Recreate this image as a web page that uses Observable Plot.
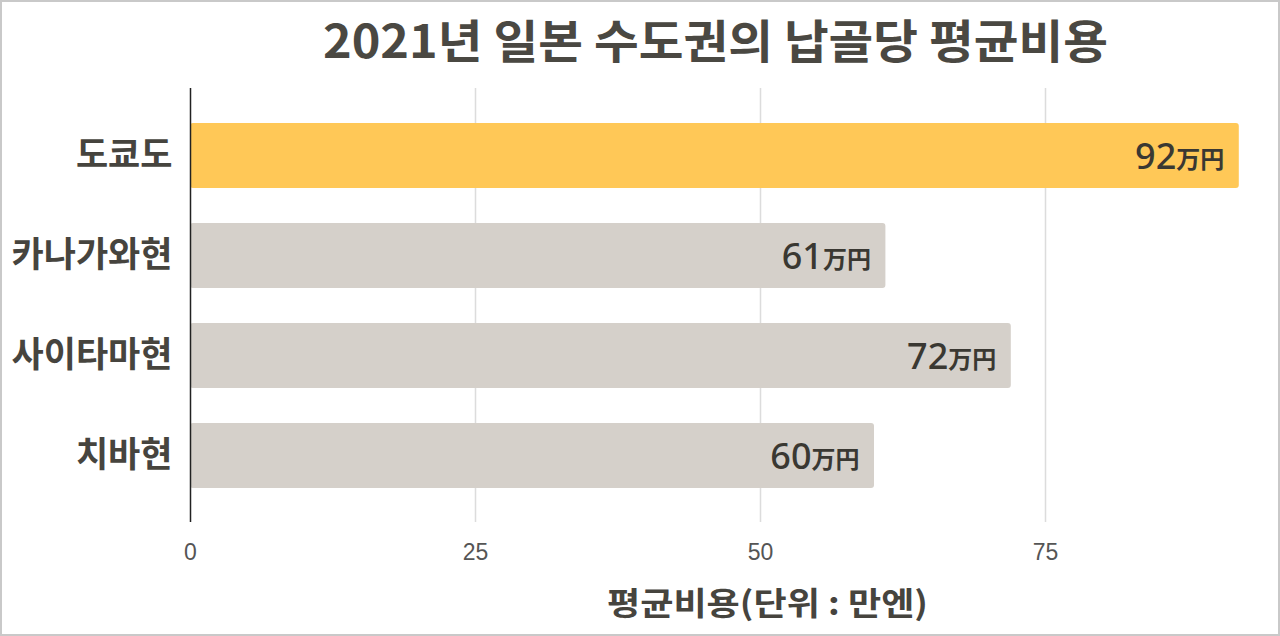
<!DOCTYPE html>
<html><head><meta charset="utf-8">
<script src="https://cdn.jsdelivr.net/npm/d3@7"></script>
<script src="https://cdn.jsdelivr.net/npm/@observablehq/plot@0.6"></script>
<style>
html,body{margin:0;padding:0;background:#fff;}
#wrap{position:relative;width:1280px;height:636px;overflow:hidden;font-family:"Noto Sans CJK KR","Noto Sans",sans-serif;}
#frame{position:absolute;left:0;top:0;width:1280px;height:636px;box-sizing:border-box;border:2px solid #c9c9c9;pointer-events:none;}
.lbl{position:absolute;white-space:nowrap;font-weight:700;line-height:1;transform-origin:0 0;}
#title{top:15px;font-size:46px;color:#4a4842;}
#chart{position:absolute;left:0;top:80px;}
#xlabel{top:585px;font-size:32px;color:#46443e;}
</style></head>
<body>
<div id="wrap">
<div id="title" class="lbl">2021년 일본 수도권의 납골당 평균비용</div>
<div id="chart"></div>
<div id="xlabel" class="lbl">평균비용(단위 : 만엔)</div>
<div id="frame"></div>
</div>
<script>
const regions = ["도쿄도", "카나가와현", "사이타마현", "치바현"];
const costs = [92, 61, 72, 60];
const highlight = ["도쿄도"];
const xTicks = [0, 25, 50, 75];
const unit = "万円";

const data = regions.map((r, i) => ({region: r, cost: costs[i], hi: highlight.includes(r)}));

const chart = Plot.plot({
  width: 1280,
  height: 500,
  marginLeft: 190,
  marginRight: 7,
  marginTop: 8,
  marginBottom: 58,
  style: {background: "transparent", fontFamily: "'Noto Sans CJK KR', sans-serif"},
  x: {domain: [0, 95], ticks: xTicks, label: null},
  y: {domain: regions, paddingInner: 0.35, paddingOuter: 0.34, label: null},
  marks: [
    Plot.ruleX(xTicks.filter(d => d > 0), {stroke: "#dcdcdc", strokeWidth: 1.5}),
    Plot.barX(data, {x: "cost", y: "region", fill: d => d.hi ? "#FFC857" : "#D5D0CA", rx: 3}),
    Plot.ruleX([0], {stroke: "#222", strokeWidth: 1.5}),
    Plot.text(data, {x: "cost", y: "region", text: d => String(d.cost), textAnchor: "end", dx: -63, dy: 1, fontSize: 36, fontWeight: 500, fill: "#3a3832", fontFamily: "'Noto Sans', sans-serif"}),
    Plot.text(data, {x: "cost", y: "region", text: () => unit, textAnchor: "end", dx: -15, dy: 4, fontSize: 24, fontWeight: 700, fill: "#3a3832", fontFamily: "'Noto Sans CJK JP', sans-serif"}),
    Plot.axisX({ticks: xTicks, tickSize: 0, tickPadding: 21, fontSize: 23, color: "#555", label: null, fontFamily: "'Liberation Sans', Arial, sans-serif"}),
    Plot.axisY({tickSize: 0, tickPadding: 18, fontSize: 35, fontWeight: 700, color: "#46443e", label: null})
  ]
});
chart.querySelectorAll("g[aria-label='y-axis tick label'] text").forEach(t => t.setAttribute("font-weight", "700"));
document.getElementById("chart").appendChild(chart);

// fit HTML labels to the reference extents (left, width)
function fit(id, left, width) {
  const el = document.getElementById(id);
  const w = el.getBoundingClientRect().width;
  el.style.left = left + "px";
  el.style.transform = `scale(${width / w}, 1)`;
}
fit("title", 323, 785);
fit("xlabel", 607, 321);
</script>
</body></html>
